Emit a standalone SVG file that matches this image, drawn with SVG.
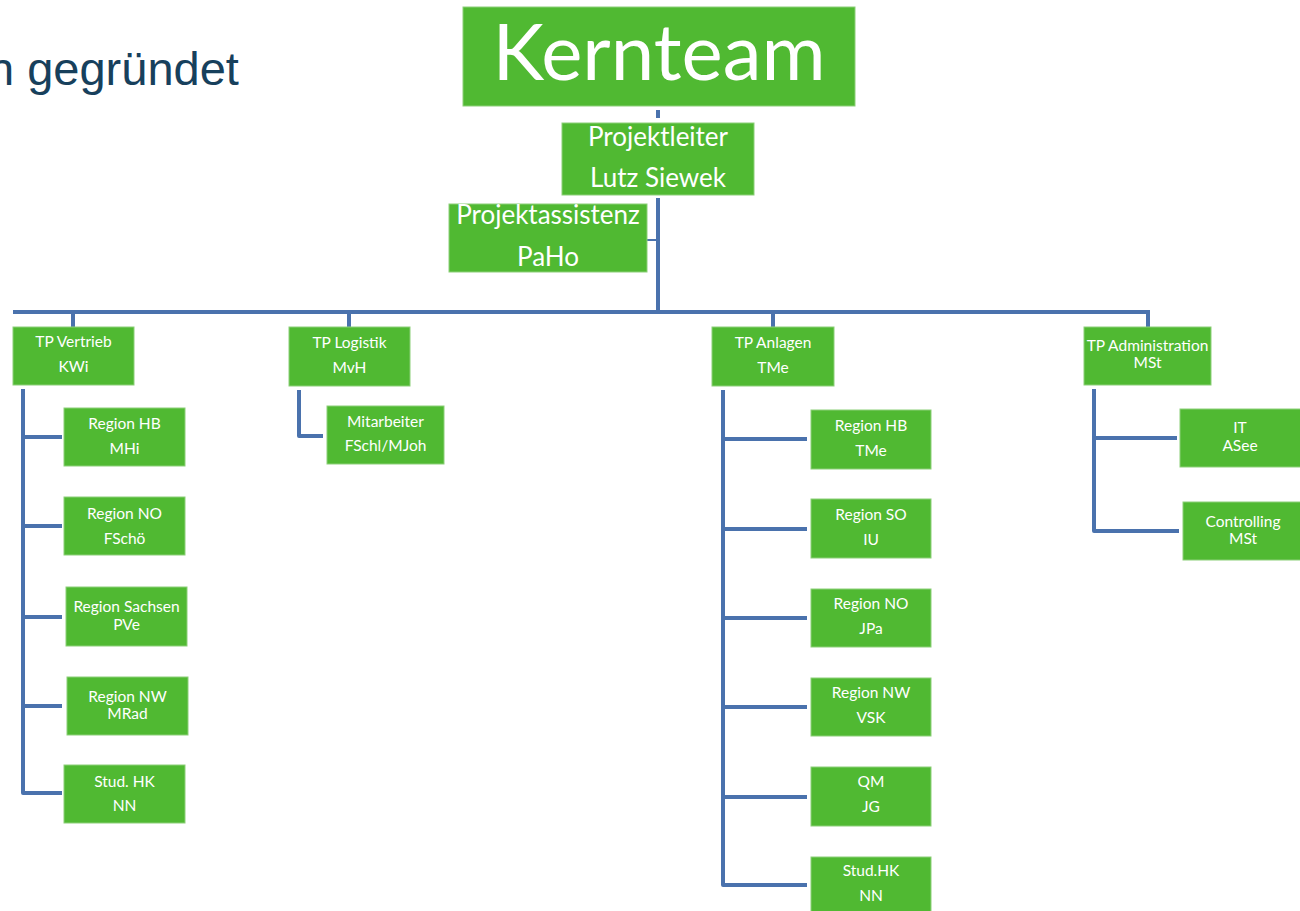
<svg xmlns="http://www.w3.org/2000/svg" width="1300" height="911" viewBox="0 0 1300 911">
<style>
.box{fill:#50B932;stroke:#8CCF78;stroke-width:1}
.t{font-family:Lato,"Open Sans","DejaVu Sans",sans-serif;fill:#FFFFFF;text-anchor:middle}
.s{font-size:15.5px}
.m{font-size:26px}
.ln{fill:none;stroke:#4A72AD;stroke-width:4;stroke-linecap:square;stroke-linejoin:round}
</style>
<rect width="1300" height="911" fill="#FFFFFF"/>
<text x="-12" y="85" font-family="'Liberation Sans',Arial,sans-serif" font-size="47" fill="#17405C">n gegründet</text>
<g id="connectors">
<path class="ln" d="M658 112 V116"/>
<path class="ln" d="M658 200 V312"/>
<path d="M647 240 H656" stroke="#4A72AD" stroke-width="2" fill="none"/>
<path class="ln" d="M15 312 H1148"/>
<path class="ln" d="M73 312 V326 M349 312 V326 M773 312 V326 M1148 312 V326"/>
<path class="ln" d="M23 391 V793 H60 M23 437 H60 M23 526 H60 M23 617 H60 M23 706 H60"/>
<path class="ln" d="M299 392 V436 H321"/>
<path class="ln" d="M723 392 V885 H805 M723 439 H805 M723 529 H805 M723 618 H805 M723 707 H805 M723 797 H805"/>
<path class="ln" d="M1094 391 V531 H1177 M1094 438 H1175"/>
</g>
<g id="kernteam"><rect class="box" x="463" y="7" width="392" height="99"/><text class="t" x="659" y="80" font-size="78">Kernteam</text></g>
<g id="projektleiter"><rect class="box" x="562" y="123" width="192" height="72"/><text class="t m" x="658" y="146">Projektleiter</text><text class="t m" x="658" y="187">Lutz Siewek</text></g>
<g id="projektassistenz"><rect class="box" x="449" y="204" width="198" height="68"/><text class="t m" x="548" y="224">Projektassistenz</text><text class="t m" x="548" y="266">PaHo</text></g>
<g id="tp-vertrieb"><rect class="box" x="13" y="327" width="121" height="58"/><text class="t s" x="73.5" y="347">TP Vertrieb</text><text class="t s" x="73.5" y="372">KWi</text></g>
<g id="tp-logistik"><rect class="box" x="289" y="327" width="121" height="59"/><text class="t s" x="349.5" y="348">TP Logistik</text><text class="t s" x="349.5" y="373">MvH</text></g>
<g id="mitarbeiter"><rect class="box" x="327" y="406" width="117" height="58"/><text class="t s" x="385.5" y="427">Mitarbeiter</text><text class="t s" x="385.5" y="451">FSchl/MJoh</text></g>
<g id="v-region-hb"><rect class="box" x="64" y="408" width="121" height="58"/><text class="t s" x="124.5" y="429">Region HB</text><text class="t s" x="124.5" y="454">MHi</text></g>
<g id="v-region-no"><rect class="box" x="64" y="497" width="121" height="58"/><text class="t s" x="124.5" y="519">Region NO</text><text class="t s" x="124.5" y="544">FSchö</text></g>
<g id="v-region-sachsen"><rect class="box" x="66" y="587" width="121" height="59"/><text class="t s" x="126.5" y="612">Region Sachsen</text><text class="t s" x="126.5" y="630">PVe</text></g>
<g id="v-region-nw"><rect class="box" x="67" y="677" width="121" height="58"/><text class="t s" x="127.5" y="702">Region NW</text><text class="t s" x="127.5" y="719">MRad</text></g>
<g id="v-stud-hk"><rect class="box" x="64" y="765" width="121" height="58"/><text class="t s" x="124.5" y="787">Stud. HK</text><text class="t s" x="124.5" y="811">NN</text></g>
<g id="tp-anlagen"><rect class="box" x="712" y="327" width="122" height="59"/><text class="t s" x="773" y="348">TP Anlagen</text><text class="t s" x="773" y="373">TMe</text></g>
<g id="a-region-hb"><rect class="box" x="811" y="410" width="120" height="59"/><text class="t s" x="871" y="431">Region HB</text><text class="t s" x="871" y="456">TMe</text></g>
<g id="a-region-so"><rect class="box" x="811" y="499" width="120" height="59"/><text class="t s" x="871" y="520">Region SO</text><text class="t s" x="871" y="545">IU</text></g>
<g id="a-region-no"><rect class="box" x="811" y="589" width="120" height="58"/><text class="t s" x="871" y="609">Region NO</text><text class="t s" x="871" y="634">JPa</text></g>
<g id="a-region-nw"><rect class="box" x="811" y="678" width="120" height="58"/><text class="t s" x="871" y="698">Region NW</text><text class="t s" x="871" y="723">VSK</text></g>
<g id="a-qm"><rect class="box" x="811" y="767" width="120" height="59"/><text class="t s" x="871" y="787">QM</text><text class="t s" x="871" y="812">JG</text></g>
<g id="a-stud-hk"><rect class="box" x="811" y="857" width="120" height="60"/><text class="t s" x="871" y="876">Stud.HK</text><text class="t s" x="871" y="901">NN</text></g>
<g id="tp-administration"><rect class="box" x="1084" y="327" width="127" height="58"/><text class="t s" x="1147.5" y="351">TP Administration</text><text class="t s" x="1147.5" y="368">MSt</text></g>
<g id="it"><rect class="box" x="1180" y="409" width="125" height="58"/><text class="t s" x="1240" y="433">IT</text><text class="t s" x="1240" y="451">ASee</text></g>
<g id="controlling"><rect class="box" x="1183" y="502" width="122" height="58"/><text class="t s" x="1243" y="527">Controlling</text><text class="t s" x="1243" y="544">MSt</text></g>
</svg>
